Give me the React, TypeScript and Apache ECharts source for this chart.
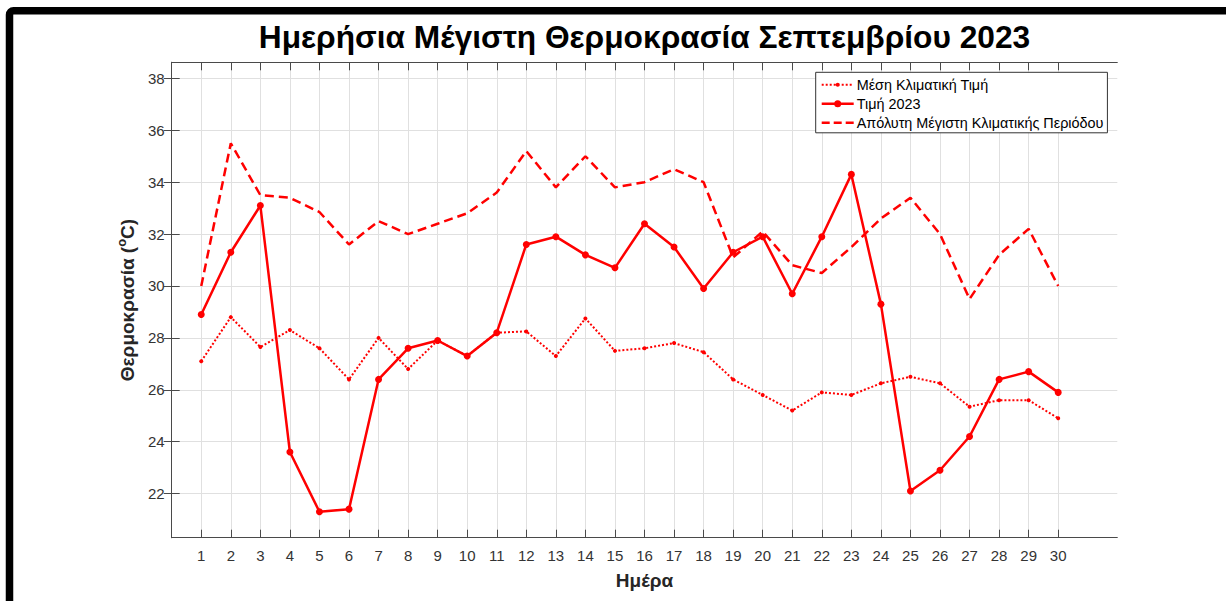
import React, { useEffect, useRef } from "react";
import * as echarts from "echarts";

const days = Array.from({ length: 30 }, (_, i) => i + 1);
const meanClimate = [27.1, 28.8, 27.65, 28.3, 27.6, 26.4, 28.0, 26.8, 27.9, 27.3, 28.2, 28.25, 27.3, 28.75, 27.5, 27.6, 27.8, 27.45, 26.4, 25.8, 25.2, 25.9, 25.8, 26.25, 26.5, 26.25, 25.35, 25.6, 25.6, 24.9];
const value2023 = [28.9, 31.3, 33.1, 23.6, 21.3, 21.4, 26.4, 27.6, 27.9, 27.3, 28.2, 31.6, 31.9, 31.2, 30.7, 32.4, 31.5, 29.9, 31.3, 31.9, 29.7, 31.9, 34.3, 29.3, 22.1, 22.9, 24.2, 26.4, 26.7, 25.9];
const absMax = [30.0, 35.5, 33.5, 33.4, 32.85, 31.6, 32.5, 32.0, 32.4, 32.8, 33.6, 35.2, 33.8, 35.0, 33.8, 34.0, 34.5, 34.0, 31.1, 32.1, 30.8, 30.5, 31.5, 32.6, 33.4, 32.0, 29.5, 31.2, 32.2, 30.0];
const yTicks = [22, 24, 26, 28, 30, 32, 34, 36, 38];

const seriesNames = ["Μέση Κλιματική Τιμή", "Τιμή 2023", "Απόλυτη Μέγιστη Κλιματικής Περιόδου"];
const titleText = "Ημερήσια Μέγιστη Θερμοκρασία Σεπτεμβρίου 2023";
const xName = "Ημέρα";

const FONT = "'Liberation Sans', Arial, Helvetica, sans-serif";
const RED = "#ff0000";
const AXIS = "#4a4a4a";
const GRIDC = "#e0e0e0";

// legend icon shapes (32 x 10 box)
const BOX = "M0 0 M32 10 ";
const dottedIcon = (() => {
  let d = BOX;
  for (let x = 0; x < 32; x += 4) d += `M${x} 4h2v2h-2z `;
  d += "M14 5a2 2 0 1 1 4 0a2 2 0 1 1 -4 0z";
  return "path://" + d;
})();
const solidIcon = "path://" + BOX + "M0 3.75h32v2.5h-32z M12.5 5a3.5 3.5 0 1 1 7 0a3.5 3.5 0 1 1 -7 0z";
const dashedIcon = "path://" + BOX + "M0 3.75h8v2.5h-8z M12 3.75h8v2.5h-8z M24 3.75h8v2.5h-8z";

export default function App() {
  const ref = useRef<HTMLDivElement>(null);
  useEffect(() => {
    if (!ref.current) return;
    const chart = echarts.init(ref.current, null, { renderer: "svg" });
    const pair = (arr: number[]) => days.map((d, i) => [d, arr[i]]);
    const axisCommon = {
      axisLine: { show: true, lineStyle: { color: AXIS, width: 1 } },
      axisTick: { show: true, inside: true, length: 8, lineStyle: { color: AXIS, width: 1 } },
    };
    chart.setOption({
      animation: false,
      backgroundColor: "#ffffff",
      textStyle: { fontFamily: FONT },
      title: {
        text: titleText,
        left: 639.5,
        textAlign: "center",
        top: 16,
        textStyle: { fontFamily: FONT, fontSize: 31.7, fontWeight: "bold", color: "#000" },
      },
      grid: { left: 171.7, top: 62.3, width: 945.6, height: 475.4, containLabel: false, outerBoundsMode: "none" },
      legend: {
        orient: "vertical",
        left: 815.7,
        top: 72.3,
        padding: [5.5, 4, 3, 6],
        itemWidth: 32,
        itemHeight: 10,
        itemGap: 5,
        borderColor: "#333",
        borderWidth: 1,
        backgroundColor: "#fff",
        textStyle: { fontFamily: FONT, fontSize: 14.4, color: "#000", padding: [0, 0, 0, -2] },
        data: [
          { name: seriesNames[0], icon: dottedIcon, itemStyle: { borderWidth: 0 } },
          { name: seriesNames[1], icon: solidIcon, itemStyle: { borderWidth: 0 } },
          { name: seriesNames[2], icon: dashedIcon, itemStyle: { borderWidth: 0 } },
        ],
      },
      xAxis: [
        {
          type: "value",
          min: 0,
          max: 32,
          name: xName,
          nameLocation: "middle",
          nameGap: 33,
          nameTextStyle: { fontFamily: FONT, fontSize: 19, fontWeight: "bold", color: "#262626" },
          ...axisCommon,
          axisTick: { ...axisCommon.axisTick, customValues: days },
          axisLabel: { customValues: days, margin: 10, fontFamily: FONT, fontSize: 15, color: "#333" },
          splitLine: { show: true, lineStyle: { color: GRIDC, width: 1 } },
        },
        {
          type: "value",
          min: 0,
          max: 32,
          position: "top",
          ...axisCommon,
          axisTick: { ...axisCommon.axisTick, customValues: days },
          axisLabel: { show: false, customValues: days },
          splitLine: { show: false },
        },
      ],
      yAxis: [
        {
          type: "value",
          min: 20.3,
          max: 38.62,
          name: "{a|Θερμοκρασία (}{s|o}{a|C)}",
          nameLocation: "middle",
          nameGap: 29,
          nameTextStyle: {
            rich: {
              a: { fontFamily: FONT, fontSize: 19, fontWeight: "bold", color: "#262626", lineHeight: 22, verticalAlign: "bottom" },
              s: { fontFamily: FONT, fontSize: 13, fontWeight: "bold", color: "#262626", lineHeight: 22, verticalAlign: "top" },
            },
          },
          ...axisCommon,
          axisTick: { ...axisCommon.axisTick, customValues: yTicks },
          axisLabel: { customValues: yTicks, margin: 7, fontFamily: FONT, fontSize: 15, color: "#333" },
          splitLine: { show: true, lineStyle: { color: GRIDC, width: 1 } },
        },
        {
          type: "value",
          min: 20.3,
          max: 38.62,
          position: "right",
          ...axisCommon,
          axisTick: { ...axisCommon.axisTick, customValues: yTicks },
          axisLabel: { show: false, customValues: yTicks },
          splitLine: { show: false },
        },
      ],
      series: [
        {
          name: seriesNames[0],
          type: "line",
          data: pair(meanClimate),
          symbol: "circle",
          symbolSize: 4,
          itemStyle: { color: RED },
          lineStyle: { color: RED, width: 2, type: [2, 2] },
          z: 3,
        },
        {
          name: seriesNames[1],
          type: "line",
          data: pair(value2023),
          symbol: "circle",
          symbolSize: 7,
          itemStyle: { color: RED },
          lineStyle: { color: RED, width: 2.5 },
          z: 4,
        },
        {
          name: seriesNames[2],
          type: "line",
          data: pair(absMax),
          symbol: "none",
          itemStyle: { color: RED },
          lineStyle: { color: RED, width: 2.5, type: [9, 5] },
          z: 2,
        },
      ],
      graphic: [
        {
          type: "rect",
          shape: { x: 9.5, y: 10.7, width: 1400, height: 800, r: 4 },
          style: { fill: "none", stroke: "#000", lineWidth: 7.5 },
          silent: true,
          z: 100,
        },
      ],
    });
    return () => chart.dispose();
  }, []);
  return (
    <div
      ref={ref}
      style={{ position: "fixed", left: 0, top: 0, width: 1226, height: 601 }}
    />
  );
}
